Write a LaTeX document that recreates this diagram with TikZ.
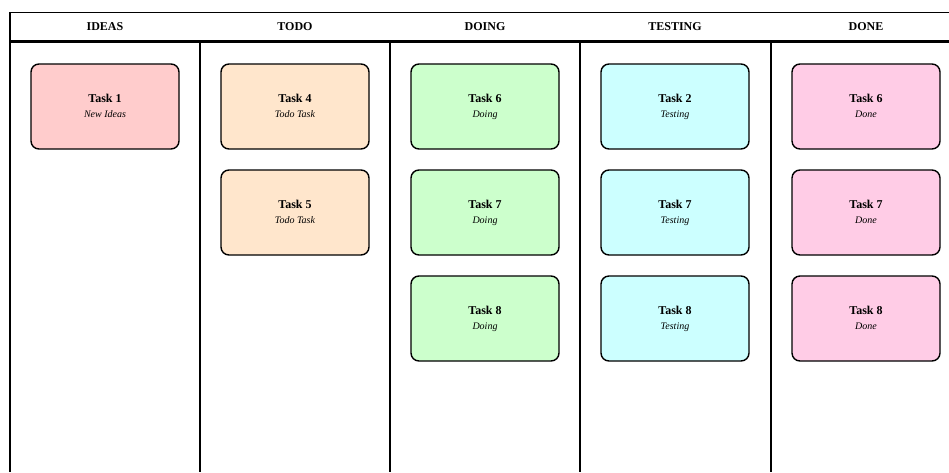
\documentclass[tikz,border=0pt]{standalone}
\usepackage{fontspec}
\setmainfont{Liberation Serif}
\definecolor{ideafill}{HTML}{FFCCCC}
\definecolor{todofill}{HTML}{FFE6CC}
\definecolor{doingfill}{HTML}{CCFFCC}
\definecolor{testfill}{HTML}{CCFFFF}
\definecolor{donefill}{HTML}{FFCCE6}
\tikzset{
  card/.style={draw,line width=1.4pt,rounded corners=8pt,minimum width=148pt,minimum height=85pt,align=center,inner sep=1pt},
  colhead/.style={font=\bfseries\fontsize{12}{14}\selectfont,inner sep=1pt},
}
\newcommand{\taskcard}[2]{{\bfseries\fontsize{12}{16}\selectfont #1}\\[3pt]{\itshape\fontsize{10}{12}\selectfont #2\vphantom{Tg}}}
\begin{document}
\begin{tikzpicture}[x=1pt,y=-1pt,line width=1.8pt]
\useasboundingbox (0,0) rectangle (949,472);
% board frame and header band
\draw (10,472) -- (10,12.5) -- (949,12.5);
\draw[line width=2.8pt] (10,41.5) -- (949,41.5);
\draw (200,41.5) -- (200,472);
\draw (390,41.5) -- (390,472);
\draw (580,41.5) -- (580,472);
\draw (771,41.5) -- (771,472);
\node[colhead] (hIdeas) at (105,27) {IDEAS};
\node[colhead] (hTodo) at (295,27) {TODO};
\node[colhead] (hDoing) at (485,27) {DOING};
\node[colhead] (hTest) at (675,27) {TESTING};
\node[colhead] (hDone) at (866,27) {DONE};
% ideas
\node[card,fill=ideafill] (i1) at (105,106.5) {\taskcard{Task 1}{New Ideas}};
% todo
\node[card,fill=todofill] (td4) at (295,106.5) {\taskcard{Task 4}{Todo Task}};
\node[card,fill=todofill] (td5) at (295,212.5) {\taskcard{Task 5}{Todo Task}};
% doing
\node[card,fill=doingfill] (dg6) at (485,106.5) {\taskcard{Task 6}{Doing}};
\node[card,fill=doingfill] (dg7) at (485,212.5) {\taskcard{Task 7}{Doing}};
\node[card,fill=doingfill] (dg8) at (485,318.5) {\taskcard{Task 8}{Doing}};
% testing
\node[card,fill=testfill] (ts2) at (675,106.5) {\taskcard{Task 2}{Testing}};
\node[card,fill=testfill] (ts7) at (675,212.5) {\taskcard{Task 7}{Testing}};
\node[card,fill=testfill] (ts8) at (675,318.5) {\taskcard{Task 8}{Testing}};
% done
\node[card,fill=donefill] (dn6) at (866,106.5) {\taskcard{Task 6}{Done}};
\node[card,fill=donefill] (dn7) at (866,212.5) {\taskcard{Task 7}{Done}};
\node[card,fill=donefill] (dn8) at (866,318.5) {\taskcard{Task 8}{Done}};
\end{tikzpicture}
\end{document}
